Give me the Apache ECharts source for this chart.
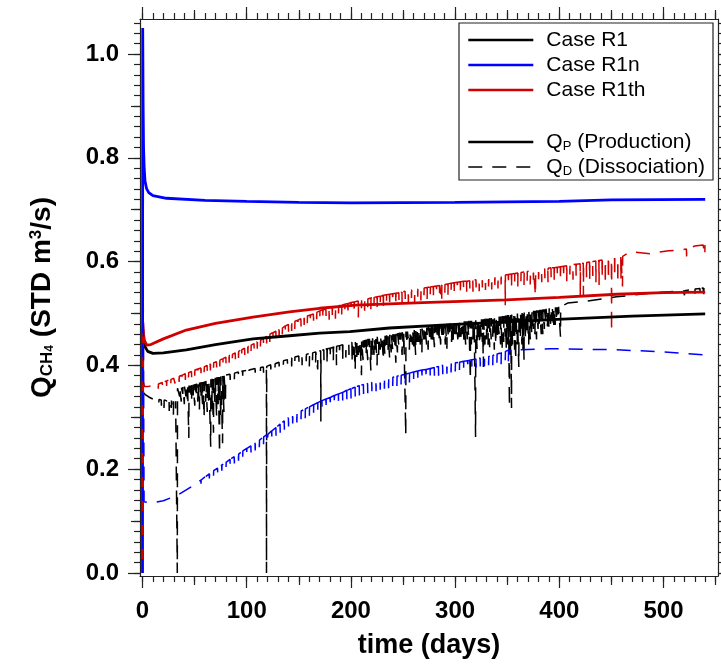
<!DOCTYPE html>
<html>
<head>
<meta charset="utf-8">
<title>Methane rate</title>
<script src="https://cdn.jsdelivr.net/npm/echarts@6/dist/echarts.min.js"></script>
<style>
  html, body { margin: 0; padding: 0; background: #fff; }
  #chart { width: 721px; height: 666px; }
</style>
</head>
<body>
<div id="chart"></div>
<script>
// ---- tick labels ----
const xMajorTicks = [0, 100, 200, 300, 400, 500];
const xMidTicks = [50, 150, 250, 350, 450, 550];
const yMajorTicks = [0, 0.2, 0.4, 0.6, 0.8, 1.0];
const yMidTicks = [0.1, 0.3, 0.5, 0.7, 0.9];

// ---- production rates Q_P (day, STD m3/s) ----
const r1Production = [[0,0],[0.2,0.47],[1,0.45],[2.4,0.436],[5,0.427],[10,0.423],[20,0.424],[42,0.43],[70,0.44],[106,0.451],[141,0.457],[170,0.462],[199,0.465],[237,0.472],[300,0.479],[330,0.482],[403,0.489],[470,0.495],[540,0.499]];
const r1nProduction = [[0,0],[0.2,1.05],[0.6,0.9],[1,0.82],[1.6,0.78],[2.4,0.755],[4,0.74],[6,0.733],[10,0.727],[23,0.722],[60,0.718],[100,0.716],[150,0.714],[200,0.713],[300,0.714],[400,0.716],[450,0.719],[540,0.72]];
const r1thProduction = [[0,0],[0.2,0.484],[1,0.46],[2,0.447],[4,0.439],[8,0.44],[20,0.451],[42,0.468],[70,0.481],[106,0.493],[141,0.503],[170,0.51],[205,0.516],[269,0.521],[349,0.526],[400,0.531],[455,0.537],[500,0.54],[540,0.541]];

// ---- dissociation rates Q_D: smooth trace + spikes [day, top, low] ----
const r1DissBase = [[0,0.352],[1,0.347],[3,0.343],[6,0.339],[10,0.335],[14,0.334],[33.3,0.331],[33.4,0],[33.6,0.356],[40,0.359],[50,0.364],[60,0.37],[70,0.376],[81,0.381],[100,0.39],[118.9,0.398],[119,0],[119.2,0.398],[141,0.413],[170,0.428],[205,0.446],[237,0.459],[269,0.472],[301,0.482],[330,0.49],[360,0.5],[400,0.513],[408,0.52],[423,0.523],[455,0.532],[487,0.539],[519,0.544],[538,0.549],[540,0.549]];
const r1DissSpikes = [
  [15.5,0.334,0.326],[18,0.333,0.322],[20.5,0.333,0.318],[23,0.332,0.325],[25.5,0.332,0.312],[27.5,0.332,0.318],[29.5,0.331,0.305],[31.5,0.331,0.315],
  [35.5,0.357,0.34],[37,0.357,0.33],[38.5,0.358,0.345],[40,0.359,0.325],[41.5,0.36,0.34],[43,0.36,0.335],[44.3,0.361,0.26],[45.5,0.361,0.34],[47,0.362,0.33],[48.5,0.363,0.342],[50,0.364,0.322],[51.5,0.365,0.338],[53,0.366,0.33],[54.5,0.367,0.315],[56,0.368,0.335],[57.5,0.368,0.325],[59,0.369,0.3],[60.5,0.37,0.33],[62,0.371,0.31],[63.5,0.372,0.325],[65.3,0.373,0.243],[66.5,0.374,0.31],[68,0.375,0.27],[69.5,0.376,0.32],[71,0.377,0.3],[72.5,0.378,0.325],[73.8,0.378,0.23],[75,0.379,0.3],[76.7,0.38,0.25],[78,0.38,0.31],[79.5,0.381,0.335],
  [84,0.383,0.372],[88,0.385,0.373],[92,0.387,0.378],[96,0.389,0.38],[102,0.391,0.383],[108,0.394,0.386],[113,0.396,0.389],[116,0.397,0.386],[123,0.401,0.392],[127,0.403,0.395],[131,0.406,0.398],[135,0.409,0.401],[139,0.411,0.403],
  [143,0.414,0.398],[146,0.416,0.405],[150,0.418,0.407],[153,0.419,0.4],[157,0.421,0.408],[160,0.423,0.398],[163,0.424,0.41],[166,0.426,0.405],[168,0.427,0.392],[171,0.428,0.292],[174,0.43,0.41],[177,0.432,0.402],[180,0.433,0.415],[183,0.435,0.408],[186,0.437,0.4],[189,0.438,0.42],[192,0.44,0.41],[195,0.441,0.415],[198,0.442,0.42],
  [201,0.444,0.405],[202.5,0.445,0.42],[204,0.445,0.391],[205.5,0.446,0.41],[207,0.447,0.42],[208.5,0.447,0.425],[210,0.448,0.381],[211.5,0.448,0.41],[213,0.449,0.425],[214.5,0.45,0.42],[216,0.451,0.41],[217.5,0.451,0.43],[219,0.452,0.39],[220.5,0.452,0.415],[222,0.453,0.42],[223.5,0.454,0.43],[225,0.455,0.4],[226.5,0.455,0.42],[228,0.456,0.43],[229.5,0.456,0.435],[231,0.457,0.41],[232.5,0.457,0.42],[234,0.458,0.435],[235.5,0.458,0.43],[237,0.459,0.415],[238.5,0.459,0.425],[240,0.46,0.43],[241.5,0.46,0.44],[243,0.461,0.405],[244.5,0.462,0.425],[246,0.463,0.435],[247.5,0.463,0.44],[249,0.464,0.42],[250.5,0.464,0.43],[252.5,0.465,0.266],[254,0.465,0.44],[256,0.466,0.43],[257.5,0.466,0.445],[259,0.467,0.44],[260.5,0.468,0.43],[262,0.469,0.42],[263.5,0.469,0.445],[265,0.47,0.445],[266.5,0.47,0.44],[268,0.471,0.425],[269.5,0.471,0.45],[271,0.472,0.45],[272.5,0.473,0.44],[274,0.474,0.43],[275.5,0.474,0.455],[277,0.475,0.45],[278.5,0.475,0.44],[280,0.476,0.435],[281.5,0.476,0.455],[283,0.477,0.455],[284.5,0.477,0.445],[286,0.478,0.44],[287.5,0.478,0.455],[289,0.479,0.45],[290.5,0.479,0.44],[292,0.48,0.432],[293.5,0.48,0.455],[295,0.481,0.455],[296.5,0.481,0.445],[298,0.482,0.44],[299.5,0.482,0.46],
  [301,0.482,0.46],[302.5,0.482,0.45],[304,0.483,0.445],[305.5,0.483,0.455],[307,0.484,0.46],[308.5,0.485,0.445],[310,0.485,0.44],[311.5,0.485,0.45],[313,0.486,0.455],[314.5,0.486,0.372],[315.5,0.486,0.44],[317,0.487,0.45],[318,0.487,0.445],[319.5,0.487,0.262],[321,0.488,0.43],[322,0.488,0.445],[323.5,0.488,0.44],[325,0.489,0.455],[326,0.489,0.445],[327,0.489,0.397],[328.5,0.49,0.44],[330,0.49,0.45],[331.5,0.49,0.44],[333,0.491,0.435],[334.5,0.491,0.45],[336,0.492,0.455],[337.5,0.492,0.43],[339,0.493,0.44],[340.5,0.493,0.45],[342,0.494,0.46],[343.5,0.494,0.44],[345,0.495,0.43],[346.5,0.495,0.445],[348,0.496,0.455],[349,0.496,0.43],[350,0.497,0.44],[351,0.497,0.44],[352,0.497,0.32],[353,0.497,0.43],[354,0.498,0.318],[355,0.498,0.44],[356,0.499,0.45],[357,0.499,0.43],[358,0.499,0.41],[359.5,0.5,0.44],[361,0.5,0.397],[362.5,0.5,0.45],[364,0.501,0.44],[365,0.501,0.43],[366,0.502,0.41],[367.5,0.502,0.45],[369,0.503,0.46],[370.5,0.503,0.44],[372,0.504,0.45],[373.5,0.504,0.46],[375,0.505,0.47],[376.5,0.505,0.46],[378,0.506,0.45],[379.5,0.506,0.47],[381,0.507,0.475],[382.5,0.507,0.46],[384,0.508,0.46],[385.5,0.508,0.47],[387,0.509,0.48],[388.5,0.509,0.475],[390,0.51,0.47],[391.5,0.51,0.48],[393,0.511,0.485],[394.5,0.511,0.47],[396,0.512,0.478],[397.5,0.512,0.485],[399,0.513,0.49],[401,0.513,0.455],
  [520,0.544,0.535],[530,0.547,0.538],[535,0.548,0.536],[538.5,0.549,0.537]
];

const r1nDissBase = [[0,0],[0.3,0.75],[1.5,0.137],[5,0.136],[10,0.135],[20,0.139],[34,0.15],[50,0.17],[74,0.205],[100,0.24],[119,0.266],[141,0.301],[170,0.33],[205,0.359],[237,0.376],[269,0.391],[300,0.405],[330,0.416],[353,0.43],[391,0.432],[455,0.43],[500,0.426],[540,0.42]];
const r1nDissSpikes = [
  [56,0.179,0.172],[60,0.185,0.176],[64,0.191,0.182],[68,0.197,0.187],[72,0.202,0.192],[76,0.208,0.197],[80,0.213,0.202],[84,0.219,0.206],[88,0.224,0.211],[92,0.229,0.216],[96,0.235,0.222],[100,0.24,0.226],
  [104,0.245,0.232],[108,0.251,0.236],[112,0.256,0.242],[116,0.262,0.247],[120,0.267,0.251],[124,0.274,0.258],[128,0.28,0.264],[132,0.287,0.27],[136,0.293,0.276],[140,0.299,0.282],[144,0.304,0.288],[148,0.308,0.29],[152,0.312,0.296],[156,0.316,0.298],[160,0.32,0.303],[164,0.324,0.306],[168,0.328,0.31],[172,0.332,0.314],[176,0.335,0.316],[180,0.338,0.32],[184,0.342,0.325],[188,0.345,0.327],[192,0.348,0.33],[196,0.352,0.334],[200,0.355,0.336],
  [204,0.358,0.34],[208,0.361,0.342],[212,0.363,0.345],[216,0.365,0.346],[220,0.367,0.35],[224,0.369,0.35],[228,0.371,0.353],[232,0.373,0.355],[236,0.375,0.356],[240,0.377,0.36],[244,0.379,0.36],[248,0.381,0.363],[252,0.383,0.365],[256,0.385,0.366],[260,0.387,0.37],[264,0.389,0.37],[268,0.391,0.373],[272,0.392,0.375],[276,0.394,0.376],[280,0.396,0.38],[284,0.398,0.38],[288,0.4,0.383],[292,0.401,0.384],[296,0.403,0.386],[300,0.405,0.388],
  [304,0.406,0.39],[308,0.408,0.39],[312,0.409,0.393],[316,0.411,0.394],[320,0.412,0.396],[324,0.414,0.398],[328,0.415,0.398],[332,0.417,0.4],[336,0.419,0.4],[340,0.422,0.405],[344,0.424,0.402],[348,0.427,0.41],[351,0.429,0.408]
];

const r1thDissBase = [[0,0],[0.3,0.372],[2,0.359],[5,0.359],[10,0.361],[15,0.364],[20,0.368],[30,0.375],[42,0.385],[60,0.398],[74,0.41],[90,0.425],[106,0.441],[120,0.457],[138,0.477],[155,0.492],[170,0.505],[190,0.516],[205,0.523],[237,0.537],[269,0.549],[300,0.559],[330,0.568],[360,0.578],[400,0.59],[430,0.6],[461,0.61],[468,0.619],[478,0.617],[488,0.615],[495,0.618],[505,0.621],[515,0.622],[522,0.624],[530,0.63],[538,0.632],[540,0.632]];
const r1thDissSpikes = [
  [15,0.364,0.355],[19,0.367,0.357],[23,0.37,0.36],[27,0.373,0.362],[31,0.376,0.365],[35,0.379,0.368],[38,0.381,0.37],[41,0.384,0.372],[44,0.386,0.376],[47,0.388,0.377],[50,0.391,0.38],[53,0.393,0.381],[56,0.395,0.385],[59,0.397,0.386],[62,0.4,0.387],[65,0.402,0.39],[68,0.405,0.393],[71,0.407,0.396],[74,0.41,0.398],[77,0.413,0.4],[80,0.416,0.404],[83,0.419,0.405],[86,0.421,0.41],[89,0.424,0.412],[92,0.427,0.414],[95,0.43,0.418],[98,0.433,0.42],
  [101,0.436,0.423],[104,0.439,0.426],[107,0.442,0.43],[110,0.445,0.432],[113,0.448,0.436],[116,0.452,0.44],[119,0.456,0.442],[122,0.46,0.445],[125,0.463,0.45],[128,0.466,0.452],[131,0.469,0.455],[134,0.472,0.46],[137,0.476,0.462],[140,0.479,0.465],[143,0.482,0.466],[146,0.485,0.47],[149,0.487,0.474],[152,0.49,0.475],[155,0.492,0.478],[158,0.495,0.481],[161,0.497,0.483],[164,0.499,0.486],[167,0.502,0.489],[170,0.505,0.49],
  [173,0.507,0.49],[176,0.508,0.495],[179,0.51,0.488],[182,0.512,0.497],[185,0.513,0.49],[188,0.515,0.5],[191,0.516,0.498],[194,0.518,0.502],[197,0.519,0.497],[200,0.521,0.503],[203,0.522,0.5],[207,0.524,0.492],[210,0.525,0.51],[213,0.527,0.505],[216,0.528,0.512],[219,0.53,0.508],[222,0.531,0.515],[225,0.532,0.51],[228,0.533,0.517],[231,0.535,0.51],[234,0.536,0.52],[237,0.537,0.515],[240,0.538,0.522],[243,0.539,0.518],[246,0.54,0.525],[249,0.541,0.52],[252,0.543,0.528],[255,0.544,0.522],[258,0.545,0.53],[261,0.546,0.52],[264,0.547,0.532],[267,0.548,0.525],[270,0.549,0.535],[273,0.55,0.528],[276,0.551,0.535],[279,0.552,0.53],[282,0.553,0.538],[285,0.554,0.532],[287,0.555,0.523],[290,0.556,0.54],[293,0.557,0.535],[296,0.558,0.542],[299,0.559,0.537],
  [302,0.56,0.545],[305,0.561,0.538],[308,0.562,0.546],[311,0.562,0.54],[314,0.563,0.548],[317,0.564,0.542],[320,0.565,0.55],[323,0.566,0.543],[326,0.567,0.55],[329,0.568,0.545],[332,0.569,0.552],[335,0.57,0.546],[338,0.571,0.555],[341,0.572,0.548],[344,0.573,0.556],[348,0.574,0.516],[351,0.575,0.556],[354,0.576,0.55],[357,0.577,0.56],[360,0.578,0.552],[363,0.579,0.562],[366,0.58,0.555],[369,0.581,0.563],[372,0.582,0.556],[375,0.583,0.565],[377,0.583,0.534],[380,0.584,0.566],[383,0.585,0.56],[386,0.586,0.568],[389,0.587,0.56],[392,0.588,0.57],[395,0.588,0.562],[398,0.589,0.572],
  [401,0.59,0.565],[404,0.591,0.57],[407,0.592,0.562],[410,0.593,0.575],[413,0.594,0.565],[416,0.595,0.572],[420,0.596,0.534],[423,0.597,0.534],[426,0.598,0.57],[429,0.599,0.565],[432,0.6,0.572],[435,0.601,0.56],[438,0.602,0.555],[441,0.603,0.57],[444,0.604,0.556],[447,0.605,0.565],[450,0.606,0.465],[453,0.607,0.57],[456,0.608,0.558],[459,0.609,0.565],[460.5,0.61,0.552],
  [522,0.624,0.61],[539.5,0.632,0.612]
];

// merge a smooth trace with its narrow spikes, ordered by time
function withSpikes(base, spikes) {
  const pts = base.map(p => [p[0], p[1]]);
  spikes.forEach(s => {
    pts.push([s[0], s[1]], [s[0] + 0.15, s[2]], [s[0] + 0.3, s[1]]);
  });
  pts.sort((a, b) => a[0] - b[0]);
  return pts;
}

const BLACK = '#000000', BLUE = '#0000ff', RED = '#d00000';
const AXIS = '#222';
const FONT = '"Liberation Sans", Arial, sans-serif';
const DASH = [14, 10];

function minorList(from, to, step) {
  const out = [];
  for (let v = from; v <= to + 1e-9; v += step) out.push(+v.toFixed(4));
  return out;
}
const xMinorTicks = minorList(0, 550, 10);
const yMinorTicks = minorList(0, 1.06, 0.02);

const X_MIN = -2.4, X_MAX = 552.3, Y_MIN = -0.006, Y_MAX = 1.0675;

function xAx(position, ticks, len, main) {
  return {
    type: 'value', position: position, min: X_MIN, max: X_MAX,
    axisLine: { show: !!main, onZero: false, lineStyle: { color: AXIS, width: 1.2 } },
    axisTick: { show: true, inside: false, length: len, customValues: ticks, lineStyle: { color: AXIS, width: 1.2 } },
    axisLabel: (main && position === 'bottom') ? {
      show: true, customValues: xMajorTicks, margin: 23, color: '#000',
      fontFamily: FONT, fontWeight: 'bold', fontSize: 24,
      formatter: v => String(Math.round(v))
    } : { show: false },
    splitLine: { show: false },
    name: (main && position === 'bottom') ? 'time (days)' : '',
    nameLocation: 'middle', nameGap: 56,
    nameTextStyle: { fontFamily: FONT, fontWeight: 'bold', fontSize: 27, color: '#000' }
  };
}
function yAx(position, ticks, len, main) {
  return {
    type: 'value', position: position, min: Y_MIN, max: Y_MAX,
    axisLine: { show: !!main, onZero: false, lineStyle: { color: AXIS, width: 1.2 } },
    axisTick: { show: true, inside: false, length: len, customValues: ticks, lineStyle: { color: AXIS, width: 1.2 } },
    axisLabel: (main && position === 'left') ? {
      show: true, customValues: yMajorTicks, margin: 21, color: '#000',
      fontFamily: FONT, fontWeight: 'bold', fontSize: 24,
      formatter: v => v.toFixed(1)
    } : { show: false },
    splitLine: { show: false }
  };
}

const yTitle = '{a|Q}{b|CH}{c|4}{a| (STD m}{d|3}{a|/s)}';

const legendCommon = {
  left: 467, orient: 'vertical', padding: 0,
  itemWidth: 65, itemHeight: 14, itemGap: 4,
  itemStyle: { opacity: 0 },
  selectedMode: false
};

const option = {
  animation: false,
  backgroundColor: '#fff',
  grid: { left: 140, right: 3, top: 19, bottom: 90, containLabel: false },
  xAxis: [
    xAx('bottom', xMajorTicks, 12, true),
    xAx('bottom', xMidTicks, 9, false),
    xAx('bottom', xMinorTicks, 6, false),
    xAx('top', xMajorTicks, 12, true),
    xAx('top', xMidTicks, 9, false),
    xAx('top', xMinorTicks, 6, false)
  ],
  yAxis: [
    Object.assign(yAx('left', yMajorTicks, 12, true), {
      name: yTitle, nameLocation: 'middle', nameRotate: 90, nameGap: 84,
      nameTextStyle: {
        color: '#000', fontFamily: FONT, fontWeight: 'bold',
        rich: {
          a: { fontSize: 28, fontWeight: 'bold', fontFamily: FONT, color: '#000', lineHeight: 28, verticalAlign: 'middle' },
          b: { fontSize: 17, fontWeight: 'bold', fontFamily: FONT, color: '#000', lineHeight: 17, verticalAlign: 'bottom' },
          c: { fontSize: 12, fontWeight: 'bold', fontFamily: FONT, color: '#000', lineHeight: 12, verticalAlign: 'bottom' },
          d: { fontSize: 17, fontWeight: 'bold', fontFamily: FONT, color: '#000', lineHeight: 17, verticalAlign: 'top' }
        }
      }
    }),
    yAx('left', yMidTicks, 9, false),
    yAx('left', yMinorTicks, 6, false),
    yAx('right', yMajorTicks, 12, true),
    yAx('right', yMidTicks, 9, false),
    yAx('right', yMinorTicks, 6, false)
  ],
  legend: [
    Object.assign({}, legendCommon, {
      top: 29.5,
      lineStyle: { width: 2.6 },
      data: ['Case R1', 'Case R1n', 'Case R1th'],
      textStyle: { fontFamily: FONT, fontSize: 21, color: '#000', lineHeight: 21, padding: [0, 0, 0, 8] }
    }),
    Object.assign({}, legendCommon, {
      top: 131.5,
      data: [
        { name: 'Q_P', lineStyle: { width: 2.6 } },
        { name: 'Q_D', lineStyle: { width: 1.5 } }
      ],
      formatter: n => n === 'Q_P' ? '{m|Q}{s|P}{m| (Production)}' : '{m|Q}{s|D}{m| (Dissociation)}',
      textStyle: {
        fontFamily: FONT, fontSize: 21, color: '#000', lineHeight: 21, padding: [0, 0, 0, 8],
        rich: {
          m: { fontFamily: FONT, fontSize: 21, color: '#000', lineHeight: 21, verticalAlign: 'middle' },
          s: { fontFamily: FONT, fontSize: 13, color: '#000', lineHeight: 13, verticalAlign: 'bottom' }
        }
      }
    })
  ],
  graphic: [
    { type: 'rect', z: 0, zlevel: 0, shape: { x: 459, y: 23, width: 254, height: 157 },
      style: { fill: '#fff', stroke: AXIS, lineWidth: 1.2 } }
  ],
  series: [
    { name: 'Case R1n', type: 'line', z: 3, data: r1nProduction, showSymbol: false, symbol: 'none',
      lineStyle: { color: BLUE, width: 2.8 }, itemStyle: { color: BLUE } },
    { name: 'Case R1', type: 'line', z: 4, data: r1Production, showSymbol: false, symbol: 'none',
      lineStyle: { color: BLACK, width: 2.8 }, itemStyle: { color: BLACK } },
    { name: 'Case R1th', type: 'line', z: 5, data: r1thProduction, showSymbol: false, symbol: 'none',
      lineStyle: { color: RED, width: 2.8 }, itemStyle: { color: RED } },
    { name: 'Case R1', type: 'line', z: 2, data: withSpikes(r1DissBase, r1DissSpikes), showSymbol: false, symbol: 'none',
      lineStyle: { color: BLACK, width: 1.5, type: DASH }, itemStyle: { color: BLACK } },
    { name: 'Case R1th', type: 'line', z: 2, data: withSpikes(r1thDissBase, r1thDissSpikes), showSymbol: false, symbol: 'none',
      lineStyle: { color: RED, width: 1.5, type: DASH }, itemStyle: { color: RED } },
    { name: 'Case R1n', type: 'line', z: 6, data: withSpikes(r1nDissBase, r1nDissSpikes), showSymbol: false, symbol: 'none',
      lineStyle: { color: BLUE, width: 1.5, type: DASH }, itemStyle: { color: BLUE } },
    { name: 'Q_P', type: 'line', data: [], showSymbol: false, symbol: 'none',
      lineStyle: { color: BLACK, width: 2.8 }, itemStyle: { color: BLACK } },
    { name: 'Q_D', type: 'line', data: [], showSymbol: false, symbol: 'none',
      lineStyle: { color: BLACK, width: 1.5, type: DASH }, itemStyle: { color: BLACK } }
  ]
};

const chart = echarts.init(document.getElementById('chart'), null, { renderer: 'canvas' });
chart.setOption(option);
</script>
</body>
</html>
